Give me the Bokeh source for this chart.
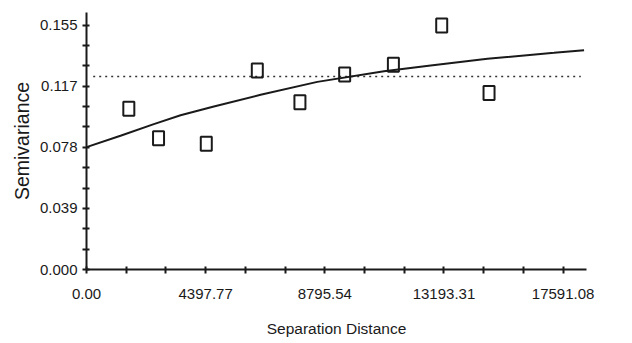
from bokeh.plotting import figure
from bokeh.models import Range1d, FixedTicker
from bokeh.embed import file_html
from bokeh.resources import INLINE

# ---- data ----
lag_x = [1562, 2659, 4421, 6304, 7877, 9528, 11327, 13110, 14857]
gamma_y = [0.1019, 0.0833, 0.0797, 0.1262, 0.1061, 0.1237, 0.1298, 0.1547, 0.1120]

curve_x = [0, 1255, 2485, 3471, 4701, 6426, 8519, 10979, 12704, 14797, 17256, 18364]
curve_y = [0.0776, 0.0848, 0.0922, 0.0978, 0.1034, 0.1108, 0.1190, 0.1257,
           0.1294, 0.1337, 0.1374, 0.1391]

sill_x = [247, 18243]
sill_y = [0.1224, 0.1224]

x_tick_step = 1465.92
x_tick_labels = ["0.00", "4397.77", "8795.54", "13193.31", "17591.08"]
y_tick_step = 0.155 / 12
y_tick_labels = ["0.000", "0.039", "0.078", "0.117", "0.155"]

FONT = "Liberation Sans"
INK = "#1a1a1a"

p = figure(width=616, height=341, output_backend="svg", toolbar_location=None,
           x_range=Range1d(0, 18454), y_range=Range1d(0, 0.163),
           min_border_left=86, min_border_right=30, min_border_top=12,
           min_border_bottom=72)
p.outline_line_color = None
p.grid.visible = False
p.background_fill_color = "white"

xt = [i * x_tick_step for i in range(13)]
yt = [i * y_tick_step for i in range(13)]
p.xaxis.ticker = FixedTicker(ticks=xt)
p.yaxis.ticker = FixedTicker(ticks=yt)
p.xaxis.major_label_overrides = {t: (x_tick_labels[i // 3] if i % 3 == 0 else "") for i, t in enumerate(xt)}
p.yaxis.major_label_overrides = {t: (y_tick_labels[i // 3] if i % 3 == 0 else "") for i, t in enumerate(yt)}

for ax in (p.xaxis[0], p.yaxis[0]):
    ax.axis_line_width = 2
    ax.axis_line_color = INK
    ax.major_tick_line_width = 2
    ax.major_tick_line_color = INK
    ax.major_tick_in = 3
    ax.major_tick_out = 4
    ax.minor_tick_line_color = None
    ax.major_label_text_font = FONT
    ax.major_label_text_font_size = "15px"
    ax.major_label_text_color = INK
    ax.axis_label_text_font_style = "normal"
    ax.axis_label_text_color = INK

p.xaxis.major_label_standoff = 15
p.yaxis.major_label_standoff = 5
p.xaxis.axis_label = "Separation Distance"
p.xaxis.axis_label_text_font = FONT
p.xaxis.axis_label_text_font_size = "15.5px"
p.xaxis.axis_label_standoff = 18
p.yaxis.axis_label = "Semivariance"
p.yaxis.axis_label_text_font = FONT
p.yaxis.axis_label_text_font_size = "19.5px"
p.yaxis.axis_label_standoff = 4

p.line(sill_x, sill_y, line_color="#333333", line_width=1.6, line_dash="2 4")
p.line(curve_x, curve_y, line_color=INK, line_width=2)
p.rect(lag_x, gamma_y, width=11, height=14, width_units="screen", height_units="screen",
       fill_color=None, line_color=INK, line_width=2)

open("out.html", "w").write(file_html(p, INLINE))
